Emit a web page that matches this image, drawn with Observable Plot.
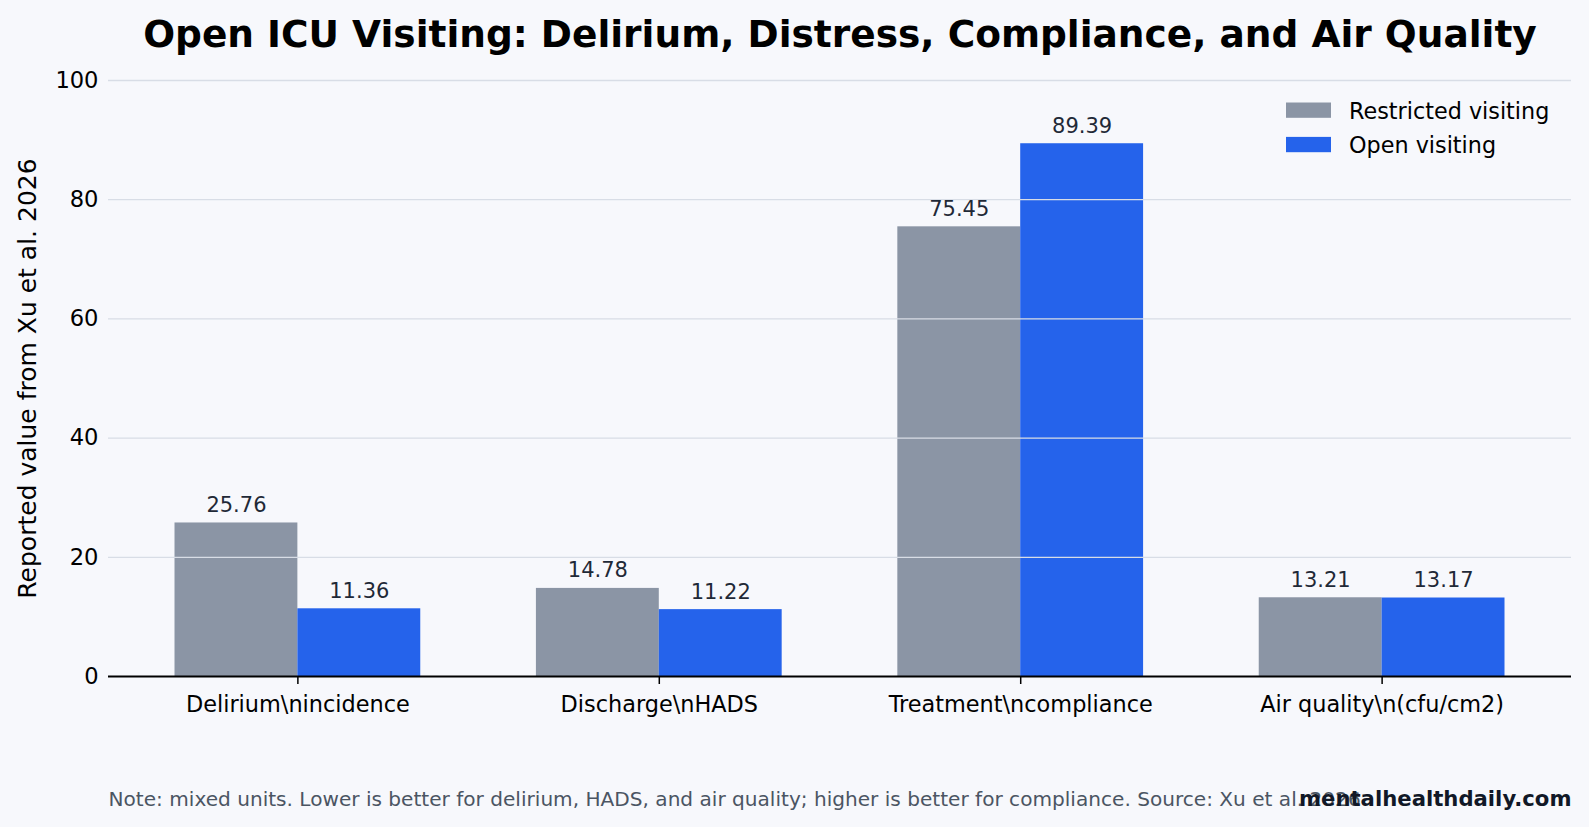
<!DOCTYPE html>
<html><head><meta charset="utf-8">
<script src="https://cdn.jsdelivr.net/npm/d3@7"></script>
<script src="https://cdn.jsdelivr.net/npm/@observablehq/plot@0.6"></script>
<style>
html,body{margin:0;padding:0;background:#f7f8fc;}
#chart{position:relative;width:1589px;height:827px;}
</style></head><body><div id="chart"></div>
<script>
const categories = ["Delirium\\nincidence", "Discharge\\nHADS", "Treatment\\ncompliance", "Air quality\\n(cfu/cm2)"];
const seriesNames = ["Restricted visiting", "Open visiting"];
const restricted = [25.76, 14.78, 75.45, 13.21];
const openVisit = [11.36, 11.22, 89.39, 13.17];
const yTicks = [0, 20, 40, 60, 80, 100];
const colors = ["#8b95a5", "#2563eb"];
const titleText = "Open ICU Visiting: Delirium, Distress, Compliance, and Air Quality";
const yLabel = "Reported value from Xu et al. 2026";
const noteText = "Note: mixed units. Lower is better for delirium, HADS, and air quality; higher is better for compliance. Source: Xu et al. 2026";
const brandText = "mentalhealthdaily.com";

const W = 1589, H = 827;
const mT = 80, mB = 151, mL = 108, mR = 18;
const barW = 0.34;

const rows = [];
categories.forEach((c, i) => {
  rows.push({cat: c, idx: i, s: 0, series: seriesNames[0], value: restricted[i]});
  rows.push({cat: c, idx: i, s: 1, series: seriesNames[1], value: openVisit[i]});
});
const left = d => d.idx + (d.s === 0 ? -barW : 0);
const right = d => d.idx + (d.s === 0 ? 0 : barW);
const mid = d => d.idx + (d.s === 0 ? -barW / 2 : barW / 2);

const plot = Plot.plot({
  width: W, height: H,
  marginTop: mT, marginBottom: mB, marginLeft: mL, marginRight: mR,
  style: {background: "transparent", fontFamily: "DejaVu Sans", fontSize: "22px", color: "#000", overflow: "visible"},
  x: {domain: [-0.524, 3.524]},
  y: {domain: [0, 100]},
  color: {domain: seriesNames, range: colors},
  marks: [
    Plot.rect(rows, {x1: left, x2: right, y1: 0, y2: "value", fill: "series"}),
    Plot.ruleY(yTicks.filter(t => t > 0), {stroke: "#d8dde6", strokeWidth: 1.3}),
    Plot.ruleY([0], {stroke: "#000", strokeWidth: 2}),
    Plot.axisY({ticks: yTicks, tickSize: 0, tickPadding: 10, fontSize: 22.6, label: null, fill: "#000"}),
    Plot.axisY({ticks: [], tickSize: 0, fontSize: 25, label: yLabel, labelAnchor: "center", labelArrow: "none", labelOffset: 90, fill: "#000"}),
    Plot.axisX({ticks: [0, 1, 2, 3], tickFormat: i => categories[i], tickSize: 8, tickPadding: 12, label: null, stroke: "#000", strokeWidth: 1.5, fontSize: 22.4, fill: "#000"}),
    Plot.text(rows, {x: mid, y: "value", text: d => d.value.toFixed(2), lineAnchor: "bottom", dy: -11, fontSize: 21, fill: "#1f2937"}),
    Plot.text([titleText], {text: d => d, frameAnchor: "top", lineAnchor: "bottom", dy: -33.3, fontSize: 37.5, fontWeight: "bold", fill: "#000"}),
    Plot.text([noteText], {text: d => d, frameAnchor: "bottom-left", textAnchor: "start", lineAnchor: "bottom", dy: 129, fontSize: 20.1, fill: "#4b5563"}),
    Plot.text([brandText], {text: d => d, frameAnchor: "bottom-right", textAnchor: "end", lineAnchor: "bottom", dy: 129, fontSize: 21.2, fontWeight: "bold", fill: "#111827"})
  ]
});

const svg = d3.select(plot);
const lg = svg.append("g").attr("font-family", "DejaVu Sans").attr("text-anchor", "start");
seriesNames.forEach((s, k) => {
  lg.append("rect").attr("x", 1286).attr("y", 102.5 + 34.4 * k).attr("width", 45).attr("height", 15.3).attr("fill", colors[k]);
  lg.append("text").attr("x", 1349).attr("y", 119.3 + 33.4 * k).attr("font-size", 22.3).attr("fill", "#000").text(s);
});

document.getElementById("chart").appendChild(plot);
</script>
</body></html>
